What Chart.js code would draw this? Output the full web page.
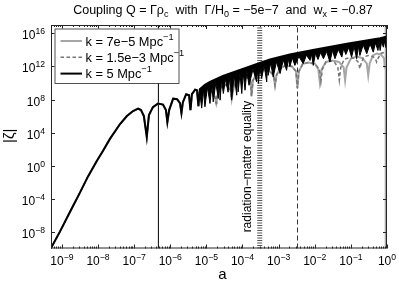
<!DOCTYPE html>
<html>
<head>
<meta charset="utf-8">
<script src="https://cdn.jsdelivr.net/npm/chart.js@4.4.0/dist/chart.umd.min.js"></script>
<style>
html, body { margin: 0; padding: 0; background: #fff; }
canvas { display: block; }
</style>
</head>
<body>
<canvas id="getChart" width="399" height="283"></canvas>
<script>
// all curve values are log10(a) and log10(|zeta|)

// common part, the three k curves lie on top of each other here
var earlyLogA = [-9.32, -9.05, -8.77, -8.50, -8.28, -8.03, -7.86, -7.67, -7.39, -7.20, -7.03, -6.89, -6.81, -6.73, -6.65, -6.59, -6.48, -6.34, -6.20, -6.12, -6.08, -6.03, -5.92, -5.81, -5.73, -5.69, -5.65, -5.56, -5.48, -5.44, -5.40, -5.31, -5.26, -5.22, -5.18];
var earlyLogZ = [-10.1, -7.93, -5.53, -3.25, -1.32, 0.60, 1.80, 3.24, 5.04, 6.00, 6.60, 6.90, 6.72, 6.00, 3.48, 6.12, 7.08, 7.50, 7.38, 6.72, 5.28, 6.72, 8.10, 8.04, 7.56, 6.36, 7.68, 8.64, 8.52, 6.72, 8.64, 9.18, 9.12, 7.20, 9.24];

// k = 5: top of the fast oscillation band
var blackTopLogA = [-5.04, -4.90, -4.54, -4.15, -3.60, -3.24, -2.69, -2.05, -1.11, -0.19, 0.02];
var blackTopLogZ = [9.78, 10.14, 10.86, 11.46, 12.30, 12.84, 13.44, 13.98, 14.73, 15.40, 15.63];

// k = 5: lower edge of the band with its spikes
var blackLowLogA = [-5.18, -5.13, -5.08, -5.04, -4.97, -4.90, -4.85, -4.81, -4.74, -4.67,
  -4.64, -4.62, -4.58, -4.53, -4.47, -4.40, -4.35, -4.30, -4.23, -4.16,
  -4.14, -4.12, -4.07, -4.02, -3.98, -3.93, -3.88, -3.82, -3.71, -3.61,
  -3.58, -3.56, -3.52, -3.47, -3.40, -3.33, -3.31, -3.29, -3.22, -3.15,
  -3.06, -2.96, -2.87, -2.78, -2.73, -2.69, -2.62, -2.55, -2.44, -2.32,
  -2.23, -2.13, -2.09, -2.04, -1.98, -1.91, -1.84, -1.76, -1.67, -1.58,
  -1.51, -1.44, -1.35, -1.25, -1.20, -1.14, -1.06, -0.98, -0.91, -0.84,
  -0.79, -0.75, -0.66, -0.56, -0.47, -0.38, -0.32, -0.25, -0.22, -0.19,
  -0.15, -0.10, -0.07, -0.03, 0.00];
var blackLowLogZ = [8.76, 6.96, 9.12, 7.12, 9.48, 7.52, 9.74, 7.72, 9.98, 8.12,
  10.17, 7.92, 10.30, 8.72, 10.49, 8.88, 10.67, 7.92, 10.86, 8.52,
  11.01, 8.92, 11.10, 8.72, 11.25, 9.12, 11.40, 9.72, 11.64, 10.12,
  11.85, 9.93, 11.94, 10.53, 12.12, 10.12, 12.25, 10.92, 12.39, 10.72,
  12.55, 11.13, 12.76, 11.52, 12.91, 12.00, 13.02, 12.12, 13.18, 12.33,
  13.36, 12.72, 13.47, 12.12, 13.56, 12.84, 13.67, 12.93, 13.80, 12.52,
  13.92, 12.93, 14.05, 13.12, 14.17, 13.44, 14.28, 13.12, 14.39, 12.93,
  14.47, 13.32, 14.58, 13.53, 14.71, 13.72, 14.83, 13.92, 14.89, 13.92,
  14.97, 14.32, 15.05, 14.28, 15.12];

// k = 7e-5 and k = 1.5e-3 still together
var grayMidLogA = [-5.07, -4.93, -4.82, -4.76, -4.73, -4.71, -4.62, -4.51, -4.40, -4.33, -4.30, -4.26, -4.18, -4.02, -3.88, -3.78, -3.75, -3.71, -3.60, -3.42, -3.24, -3.14, -3.10, -3.06, -2.96, -2.80, -2.63, -2.52, -2.48, -2.44, -2.33, -2.17, -1.99];
var grayMidLogZ = [9.48, 9.24, 8.76, 8.28, 7.56, 8.28, 9.36, 9.84, 9.60, 9.12, 8.04, 9.12, 10.32, 10.80, 10.68, 10.32, 8.40, 10.32, 11.16, 11.52, 11.40, 10.92, 9.72, 10.92, 11.76, 12.12, 12.00, 11.40, 9.36, 11.40, 12.30, 12.48, 12.30];

// k = 7e-5 (solid gray) late part
var solidTailLogA = [-1.90, -1.86, -1.81, -1.69, -1.51, -1.33, -1.20, -1.16, -1.12, -1.00, -0.84, -0.69, -0.56, -0.52, -0.48, -0.39, -0.28, -0.17, -0.08, -0.06, -0.03, 0.03];
var solidTailLogZ = [11.64, 10.08, 11.64, 12.54, 12.72, 12.54, 11.88, 10.32, 11.88, 12.96, 13.20, 13.02, 12.36, 10.92, 12.36, 13.32, 13.56, 13.44, 12.96, 11.76, 12.96, 13.44];

// k = 1.5e-3 (dashed gray) late part
var dashedTailLogA = [-1.87, -1.83, -1.79, -1.69, -1.58, -1.45, -1.36, -1.32, -1.28, -1.19, -1.03, -0.89, -0.79, -0.75, -0.71, -0.64, -0.52, -0.40, -0.32, -0.29, -0.25, -0.17, -0.08, 0.03];
var dashedTailLogZ = [11.64, 10.12, 11.64, 12.54, 12.72, 12.48, 11.88, 10.32, 11.88, 12.84, 13.08, 12.96, 12.48, 11.73, 12.48, 13.14, 13.32, 13.20, 12.96, 12.52, 12.96, 13.56, 13.68, 13.56];

// vertical markers (a values)
var equalityA = 3.0e-4;
var crossA = [0.92, 3.33e-3, 4.7e-7];   // k = 7e-5, 1.5e-3, 5
var kLabels = ['k = 7e\u22125 Mpc', 'k = 1.5e\u22123 Mpc', 'k = 5 Mpc'];

// axes
var xMin = 5e-10, xMax = 1;
var yMin = 1e-10, yMax = 1e17;
var xTickExp = [-9, -8, -7, -6, -5, -4, -3, -2, -1, 0];
var yTickExp = [-8, -4, 0, 4, 8, 12, 16];

var FONT = '"Liberation Sans", Arial, Helvetica, sans-serif';

function pts(la, lz) {
    return la.map(function (v, i) { return { x: Math.pow(10, v), y: Math.pow(10, lz[i]) }; });
}
function vline(a) {
    return [{ x: a, y: yMin }, { x: a, y: yMax }];
}

function drawRich(ctx, parts, x, y, align, size) {
    var small = size * 0.72, w = 0, i, p;
    for (i = 0; i < parts.length; i++) {
        ctx.font = (parts[i][1] ? small : size) + 'px ' + FONT;
        w += ctx.measureText(parts[i][0]).width;
    }
    var cx = align === 'center' ? x - w / 2 : (align === 'right' ? x - w : x);
    ctx.textAlign = 'left';
    ctx.textBaseline = 'alphabetic';
    for (i = 0; i < parts.length; i++) {
        p = parts[i];
        ctx.font = (p[1] ? small : size) + 'px ' + FONT;
        var dy = p[1] > 0 ? -size * 0.45 : (p[1] < 0 ? size * 0.27 : 0);
        ctx.fillText(p[0], cx, y + dy);
        cx += ctx.measureText(p[0]).width;
    }
    return w;
}
function seg(ctx, x1, y1, x2, y2) {
    ctx.beginPath(); ctx.moveTo(x1, y1); ctx.lineTo(x2, y2); ctx.stroke();
}
function expText(e) { return String(e).replace('-', '\u2212'); }

// draws the matlab style frame, ticks, labels, title and legend
var matlabAxes = {
    id: 'matlabAxes',
    afterDraw: function (chart) {
        var ctx = chart.ctx, ca = chart.chartArea;
        var xs = chart.scales.x, ys = chart.scales.y;
        ctx.save();
        ctx.fillStyle = '#000';
        ctx.strokeStyle = '#262626';
        ctx.lineWidth = 1;
        ctx.setLineDash([]);
        ctx.strokeRect(ca.left + 0.5, ca.top + 0.5, ca.right - ca.left - 1, ca.bottom - ca.top - 1);

        // x ticks, top and bottom, major + minor
        for (var e = -10; e <= 0; e++) {
            for (var m = 1; m < 10; m++) {
                var v = m * Math.pow(10, e);
                if (v < xMin || v > xMax) continue;
                var px = Math.round(xs.getPixelForValue(v)) + 0.5;
                var len = m === 1 ? 4 : 2;
                seg(ctx, px, ca.bottom, px, ca.bottom - len);
                seg(ctx, px, ca.top, px, ca.top + len);
            }
        }
        xTickExp.forEach(function (e) {
            var px = xs.getPixelForValue(Math.pow(10, e));
            drawRich(ctx, [['10', 0], [expText(e), 1]], px, ca.bottom + 16.5, 'center', 12);
        });
        yTickExp.forEach(function (e) {
            var py = Math.round(ys.getPixelForValue(Math.pow(10, e))) + 0.5;
            seg(ctx, ca.left, py, ca.left + 4, py);
            seg(ctx, ca.right, py, ca.right - 4, py);
            drawRich(ctx, [['10', 0], [expText(e), 1]], ca.left - 6, py + 5.5, 'right', 12);
        });

        // title
        drawRich(ctx, [['Coupling Q = \u0393\u03c1', 0], ['c', -1], ['  with  \u0393/H', 0], ['0', -1],
            [' = \u22125e\u22127  and  w', 0], ['x', -1], [' = \u22120.87', 0]],
            (ca.left + ca.right) / 2 + 4, 14, 'center', 12.5);

        // axis labels
        ctx.font = '15px ' + FONT;
        ctx.textAlign = 'center';
        ctx.textBaseline = 'alphabetic';
        ctx.fillText('a', (ca.left + ca.right) / 2 + 3.5, 279);
        ctx.save();
        ctx.translate(10, (ca.top + ca.bottom) / 2 - 1);
        ctx.rotate(-Math.PI / 2);
        ctx.textBaseline = 'middle';
        ctx.fillText('|\u03b6|', 0, 0);
        ctx.restore();

        // radiation-matter equality text
        ctx.save();
        ctx.translate(xs.getPixelForValue(equalityA) - 12, 166.5);
        ctx.rotate(-Math.PI / 2);
        ctx.font = '12px ' + FONT;
        ctx.textAlign = 'center';
        ctx.textBaseline = 'middle';
        ctx.fillText('radiation\u2212matter equality', 0, 0);
        ctx.restore();

        // legend
        var lx = ca.left + 3.5, ly = ca.top + 3.5, lw = 124, lh = 54.5;
        ctx.fillStyle = '#fff';
        ctx.fillRect(lx, ly, lw, lh);
        ctx.strokeStyle = '#262626';
        ctx.lineWidth = 0.8;
        ctx.strokeRect(lx + 0.5, ly + 0.5, lw, lh);
        var items = chart.data.datasets.filter(function (d) { return d.legendRank !== undefined; })
            .sort(function (a, b) { return a.legendRank - b.legendRank; });
        items.forEach(function (d, i) {
            var yy = ly + 12.5 + i * 16.3;
            ctx.strokeStyle = d.borderColor;
            ctx.lineWidth = d.borderWidth;
            ctx.setLineDash(d.borderDash || []);
            seg(ctx, lx + 6, yy, lx + 27.5, yy);
            ctx.setLineDash([]);
            ctx.fillStyle = '#000';
            drawRich(ctx, [[d.label, 0], ['\u22121', 1]], lx + 31, yy + 4.5, 'left', 12.8);
        });
        ctx.restore();
    }
};

var ctx = document.getElementById('getChart');
var chart = new Chart(ctx, {
    type: 'line',
    data: {
        datasets: [{
                label: kLabels[2],
                legendRank: 2,
                data: pts(earlyLogA.concat(blackTopLogA), earlyLogZ.concat(blackTopLogZ)),
                borderColor: '#000',
                borderWidth: 2
            },
            {
                label: 'band',
                data: pts(blackLowLogA, blackLowLogZ),
                borderColor: '#000',
                backgroundColor: '#000',
                borderWidth: 1,
                fill: '-1'
            },
            {
                label: kLabels[1],
                legendRank: 1,
                data: pts(earlyLogA.concat(grayMidLogA, dashedTailLogA), earlyLogZ.concat(grayMidLogZ, dashedTailLogZ)),
                borderColor: '#767676',
                borderWidth: 1.5,
                borderDash: [3.5, 2.5]
            },
            {
                label: kLabels[0],
                legendRank: 0,
                data: pts(earlyLogA.concat(grayMidLogA, solidTailLogA), earlyLogZ.concat(grayMidLogZ, solidTailLogZ)),
                borderColor: '#a6a6a6',
                borderWidth: 2
            },
            {
                label: 'equality',
                data: vline(equalityA),
                borderColor: '#555',
                borderWidth: 5,
                borderDash: [1, 1.5]
            },
            {
                label: 'cross k5',
                data: vline(crossA[2]),
                borderColor: '#000',
                borderWidth: 1
            },
            {
                label: 'cross k1.5e-3',
                data: vline(crossA[1]),
                borderColor: '#333',
                borderWidth: 1,
                borderDash: [5, 3]
            },
            {
                label: 'cross k7e-5',
                data: vline(crossA[0]),
                borderColor: '#a8a8a8',
                borderWidth: 2
            }
        ]
    },
    options: {
        responsive: false,
        animation: false,
        devicePixelRatio: 1,
        layout: { padding: { left: 51, right: 12, top: 25, bottom: 34.5 } },
        elements: { point: { radius: 0 }, line: { tension: 0 } },
        plugins: { legend: { display: false }, title: { display: false }, tooltip: { enabled: false } },
        scales: {
            x: { type: 'logarithmic', min: xMin, max: xMax, bounds: 'data', display: false },
            y: { type: 'logarithmic', min: yMin, max: yMax, bounds: 'data', display: false }
        }
    },
    plugins: [matlabAxes]
});
</script>
</body>
</html>
